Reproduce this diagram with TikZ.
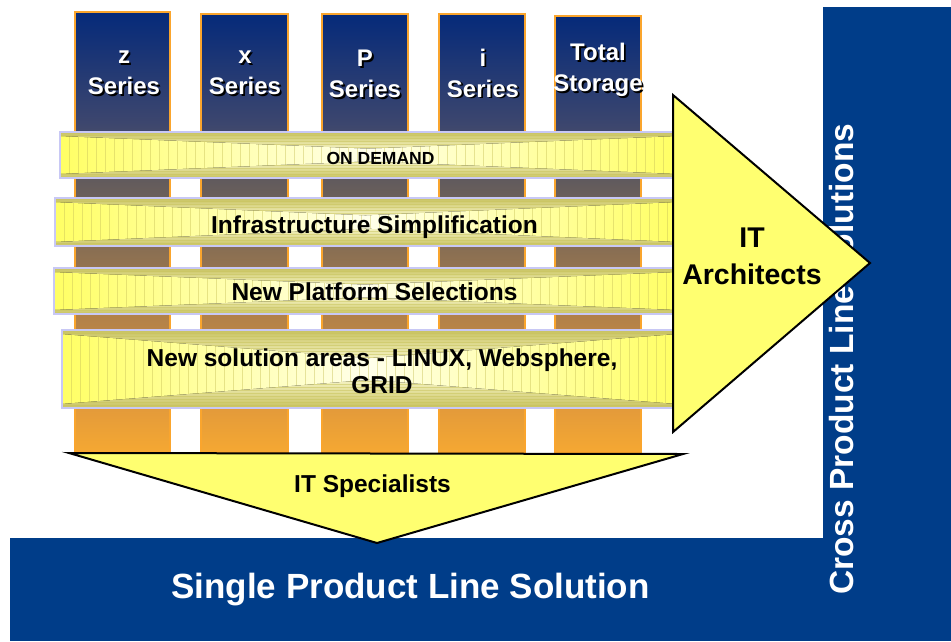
\documentclass[tikz,border=0pt]{standalone}
\usepackage{fontspec}
\setmainfont{Liberation Sans}
\definecolor{ibmblue}{RGB}{0,61,137}
\definecolor{cA}{RGB}{245,168,50}
\definecolor{cB}{RGB}{228,155,58}
\definecolor{cC}{RGB}{180,130,72}
\definecolor{cD}{RGB}{140,112,82}
\definecolor{cE}{RGB}{100,92,92}
\definecolor{cF}{RGB}{60,70,110}
\definecolor{cG}{RGB}{5,42,122}
\definecolor{colborder}{RGB}{250,165,45}
\definecolor{bandY}{RGB}{255,255,100}
\definecolor{bandP}{RGB}{255,255,235}
\definecolor{bandO}{RGB}{200,194,95}
\definecolor{bandL}{RGB}{245,243,195}
\definecolor{bandEdge}{RGB}{200,200,245}
\definecolor{bandStripe}{RGB}{200,195,90}
\definecolor{arrowY}{RGB}{255,255,112}
\pgfdeclareverticalshading{colshade}{100bp}{color(0bp)=(cA); color(25bp)=(cA); color(29.75bp)=(cB); color(40bp)=(cC); color(47.5bp)=(cD); color(55.5bp)=(cE); color(62.5bp)=(cF); color(75bp)=(cG); color(100bp)=(cG)}
\newcommand{\drawband}[4]{%
  \pgfmathsetmacro{\bm}{(#1+#3)/2}%
  \pgfmathsetmacro{\bh}{#4-#2}%
  \fill[left color=bandY, right color=bandY, middle color=bandP] (#1,#2) rectangle (#3,#4);
  \begin{scope}
    \clip (#1,#2) rectangle (#3,#4);
    \foreach \k in {0,...,70} {\draw[bandStripe, opacity=0.45, line width=0.7pt] ({#1+9*\k},#2) -- ({#1+9*\k},#4);}
  \end{scope}
  \fill[top color=bandO, bottom color=bandL] (#1,#2) -- (#1,{#2+4}) -- (\bm,{#2+0.36*\bh}) -- (#3,{#2+4}) -- (#3,#2) -- cycle;
  \fill[bottom color=bandO, top color=bandL] (#1,#4) -- (#1,{#4-4}) -- (\bm,{#4-0.36*\bh}) -- (#3,{#4-4}) -- (#3,#4) -- cycle;
  \begin{scope}
    \clip (#1,#2) -- (#1,{#2+4}) -- (\bm,{#2+0.36*\bh}) -- (#3,{#2+4}) -- (#3,#2) -- cycle
          (#1,#4) -- (#1,{#4-4}) -- (\bm,{#4-0.36*\bh}) -- (#3,{#4-4}) -- (#3,#4) -- cycle;
    \foreach \k in {0,...,30} {\draw[bandStripe, opacity=0.5, line width=0.6pt] (#1,{#2+3*\k}) -- (#3,{#2+3*\k});}
  \end{scope}
  \draw[bandEdge, line width=2pt] (#1,#2) rectangle (#3,#4);
}
\begin{document}
\begin{tikzpicture}[x=1pt,y=-1pt,
  colbox/.style={draw=colborder, line width=2pt, shading=colshade, inner sep=0pt, minimum height=#1},
  collabel/.style={text=white, font=\fontsize{24}{31}\selectfont\bfseries, align=center, inner sep=0pt},
  colshadow/.style={text=black, font=\fontsize{24}{31}\selectfont\bfseries, align=center, inner sep=0pt},
  bandtext/.style={text=black, font=\fontsize{24.5}{27}\selectfont\bfseries, inner sep=0pt},
  yellowshape/.style={fill=arrowY, draw=black, line width=2pt, line join=miter},
  whitetext/.style={text=white, inner sep=0pt}]
\useasboundingbox (0,0) rectangle (951,641);
\fill[white] (0,0) rectangle (951,641);
% columns
\node[colbox=440pt, minimum width=95pt] (zcol) at (122.5,232) {};
\node[colbox=438pt, minimum width=87pt] (xcol) at (244.5,233) {};
\node[colbox=438pt, minimum width=86pt] (pcol) at (365,233) {};
\node[colbox=438pt, minimum width=86pt] (icol) at (482,233) {};
\node[colbox=436pt, minimum width=86pt] (tcol) at (598,234) {};
% column labels
\node[colshadow] (zsh) at (125.8,74.8) {z\\Series};
\node[collabel] (zlab) at (124,73) {z\\Series};
\node[colshadow] (xsh) at (246.8,74.8) {x\\Series};
\node[collabel] (xlab) at (245,73) {x\\Series};
\node[colshadow] (psh) at (366.8,75.8) {P\\Series};
\node[collabel] (plab) at (365,74) {P\\Series};
\node[colshadow] (ish) at (484.8,74.8) {i\\Series};
\node[collabel] (ilab) at (483,73) {i\\Series};
\node[colshadow] (tsh) at (599.8,71.8) {Total\\Storage};
\node[collabel] (tlab) at (598,70) {Total\\Storage};
% bands
\drawband{60}{132}{676}{178}
\drawband{55}{198}{676}{246}
\drawband{54}{268}{676}{314}
\drawband{62}{330}{676}{408}
\node[bandtext, font=\fontsize{17.5}{20}\selectfont\bfseries, anchor=base] (ondemand) at (380.5,164) {ON DEMAND};
\node[bandtext, anchor=base] (infra) at (374.5,233) {Infrastructure Simplification};
\node[bandtext, anchor=base] (platform) at (374.5,300) {New Platform Selections};
\node[bandtext, align=center] (solution) at (382,371) {New solution areas - LINUX, Websphere,\\GRID};
% blue bars
\fill[ibmblue] (10,538) rectangle (951,641);
\fill[ibmblue] (823,7) rectangle (951,641);
\node[whitetext, font=\fontsize{35}{40}\selectfont\bfseries, anchor=base] (single) at (410.5,598) {Single Product Line Solution};
\node[whitetext, font=\fontsize{33.5}{40}\selectfont\bfseries, rotate=90, anchor=base west] (cross) at (853,595) {Cross Product Line Solutions};
% yellow arrows
\coordinate (dl) at (69,453);
\coordinate (dr) at (683,454);
\coordinate (dt) at (377,543);
\draw[yellowshape] (dl) -- (dr) -- (dt) -- cycle;
\coordinate (rt) at (673,95);
\coordinate (rb) at (673,432);
\coordinate (rp) at (870,263);
\draw[yellowshape] (rt) -- (rp) -- (rb) -- cycle;
\node[font=\fontsize{28.5}{37}\selectfont\bfseries, align=center, inner sep=0pt] (arch) at (752,256) {IT\\Architects};
\node[font=\fontsize{24.5}{28}\selectfont\bfseries, anchor=base, inner sep=0pt] (spec) at (372.5,492) {IT Specialists};
\end{tikzpicture}
\end{document}
